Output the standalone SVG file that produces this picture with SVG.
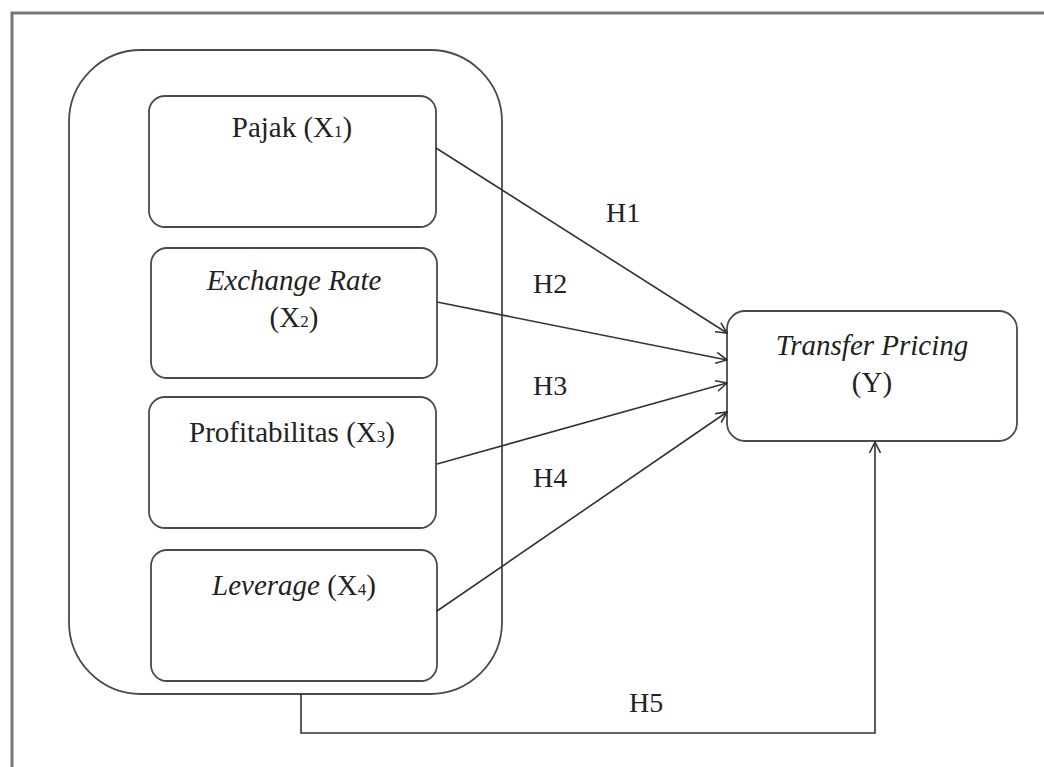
<svg xmlns="http://www.w3.org/2000/svg" width="1044" height="767" viewBox="0 0 1044 767">
<style>
.box{fill:#fff;stroke:#4a4a4a;stroke-width:1.8}
.t{font-family:"Liberation Serif",serif;font-size:29px;fill:#222;text-anchor:middle}
.h{font-family:"Liberation Serif",serif;font-size:28px;fill:#222}
.i{font-style:italic}
.sub{font-size:17px}
.c{fill:none;stroke:#333;stroke-width:1.6}
</style>
<defs>
<marker id="arr" viewBox="0 0 12 12" refX="11" refY="6" markerWidth="12" markerHeight="12" markerUnits="userSpaceOnUse" orient="auto">
<path d="M0,0.5 L11,6 L0,11.5" fill="none" stroke="#333" stroke-width="1.6"/>
</marker>
</defs>
<rect width="1044" height="767" fill="#fff"/>
<path d="M12,767 V13 H1044" fill="none" stroke="#777" stroke-width="3"/>
<g id="group">
<rect class="box" x="69" y="50" width="433" height="644" rx="72" ry="72"/>
</g>
<g id="x1">
<rect class="box" x="149" y="96" width="287" height="131" rx="16"/>
<text class="t" x="292" y="137">Pajak (X<tspan class="sub">1</tspan>)</text>
</g>
<g id="x2">
<rect class="box" x="151" y="248" width="286" height="130" rx="16"/>
<text class="t" x="294" y="290"><tspan class="i">Exchange Rate</tspan></text>
<text class="t" x="294" y="327">(X<tspan class="sub">2</tspan>)</text>
</g>
<g id="x3">
<rect class="box" x="149" y="397" width="287" height="131" rx="16"/>
<text class="t" x="292" y="442">Profitabilitas (X<tspan class="sub">3</tspan>)</text>
</g>
<g id="x4">
<rect class="box" x="151" y="550" width="286" height="131" rx="16"/>
<text class="t" x="294" y="595"><tspan class="i">Leverage</tspan> (X<tspan class="sub">4</tspan>)</text>
</g>
<g id="y">
<rect class="box" x="727" y="311" width="290" height="130" rx="18"/>
<text class="t" x="872" y="355"><tspan class="i">Transfer Pricing</tspan></text>
<text class="t" x="872" y="392">(Y)</text>
</g>
<g id="connectors">
<line class="c" x1="436" y1="148" x2="727" y2="333" marker-end="url(#arr)"/>
<line class="c" x1="437" y1="302" x2="727" y2="360" marker-end="url(#arr)"/>
<line class="c" x1="437" y1="464" x2="727" y2="383" marker-end="url(#arr)"/>
<line class="c" x1="437" y1="611" x2="727" y2="412" marker-end="url(#arr)"/>
<path class="c" d="M301,694 V733 H875 V442" marker-end="url(#arr)"/>
<text class="h" x="606" y="222">H1</text>
<text class="h" x="533" y="293">H2</text>
<text class="h" x="533" y="395">H3</text>
<text class="h" x="533" y="487">H4</text>
<text class="h" x="629" y="712">H5</text>
</g>
</svg>
